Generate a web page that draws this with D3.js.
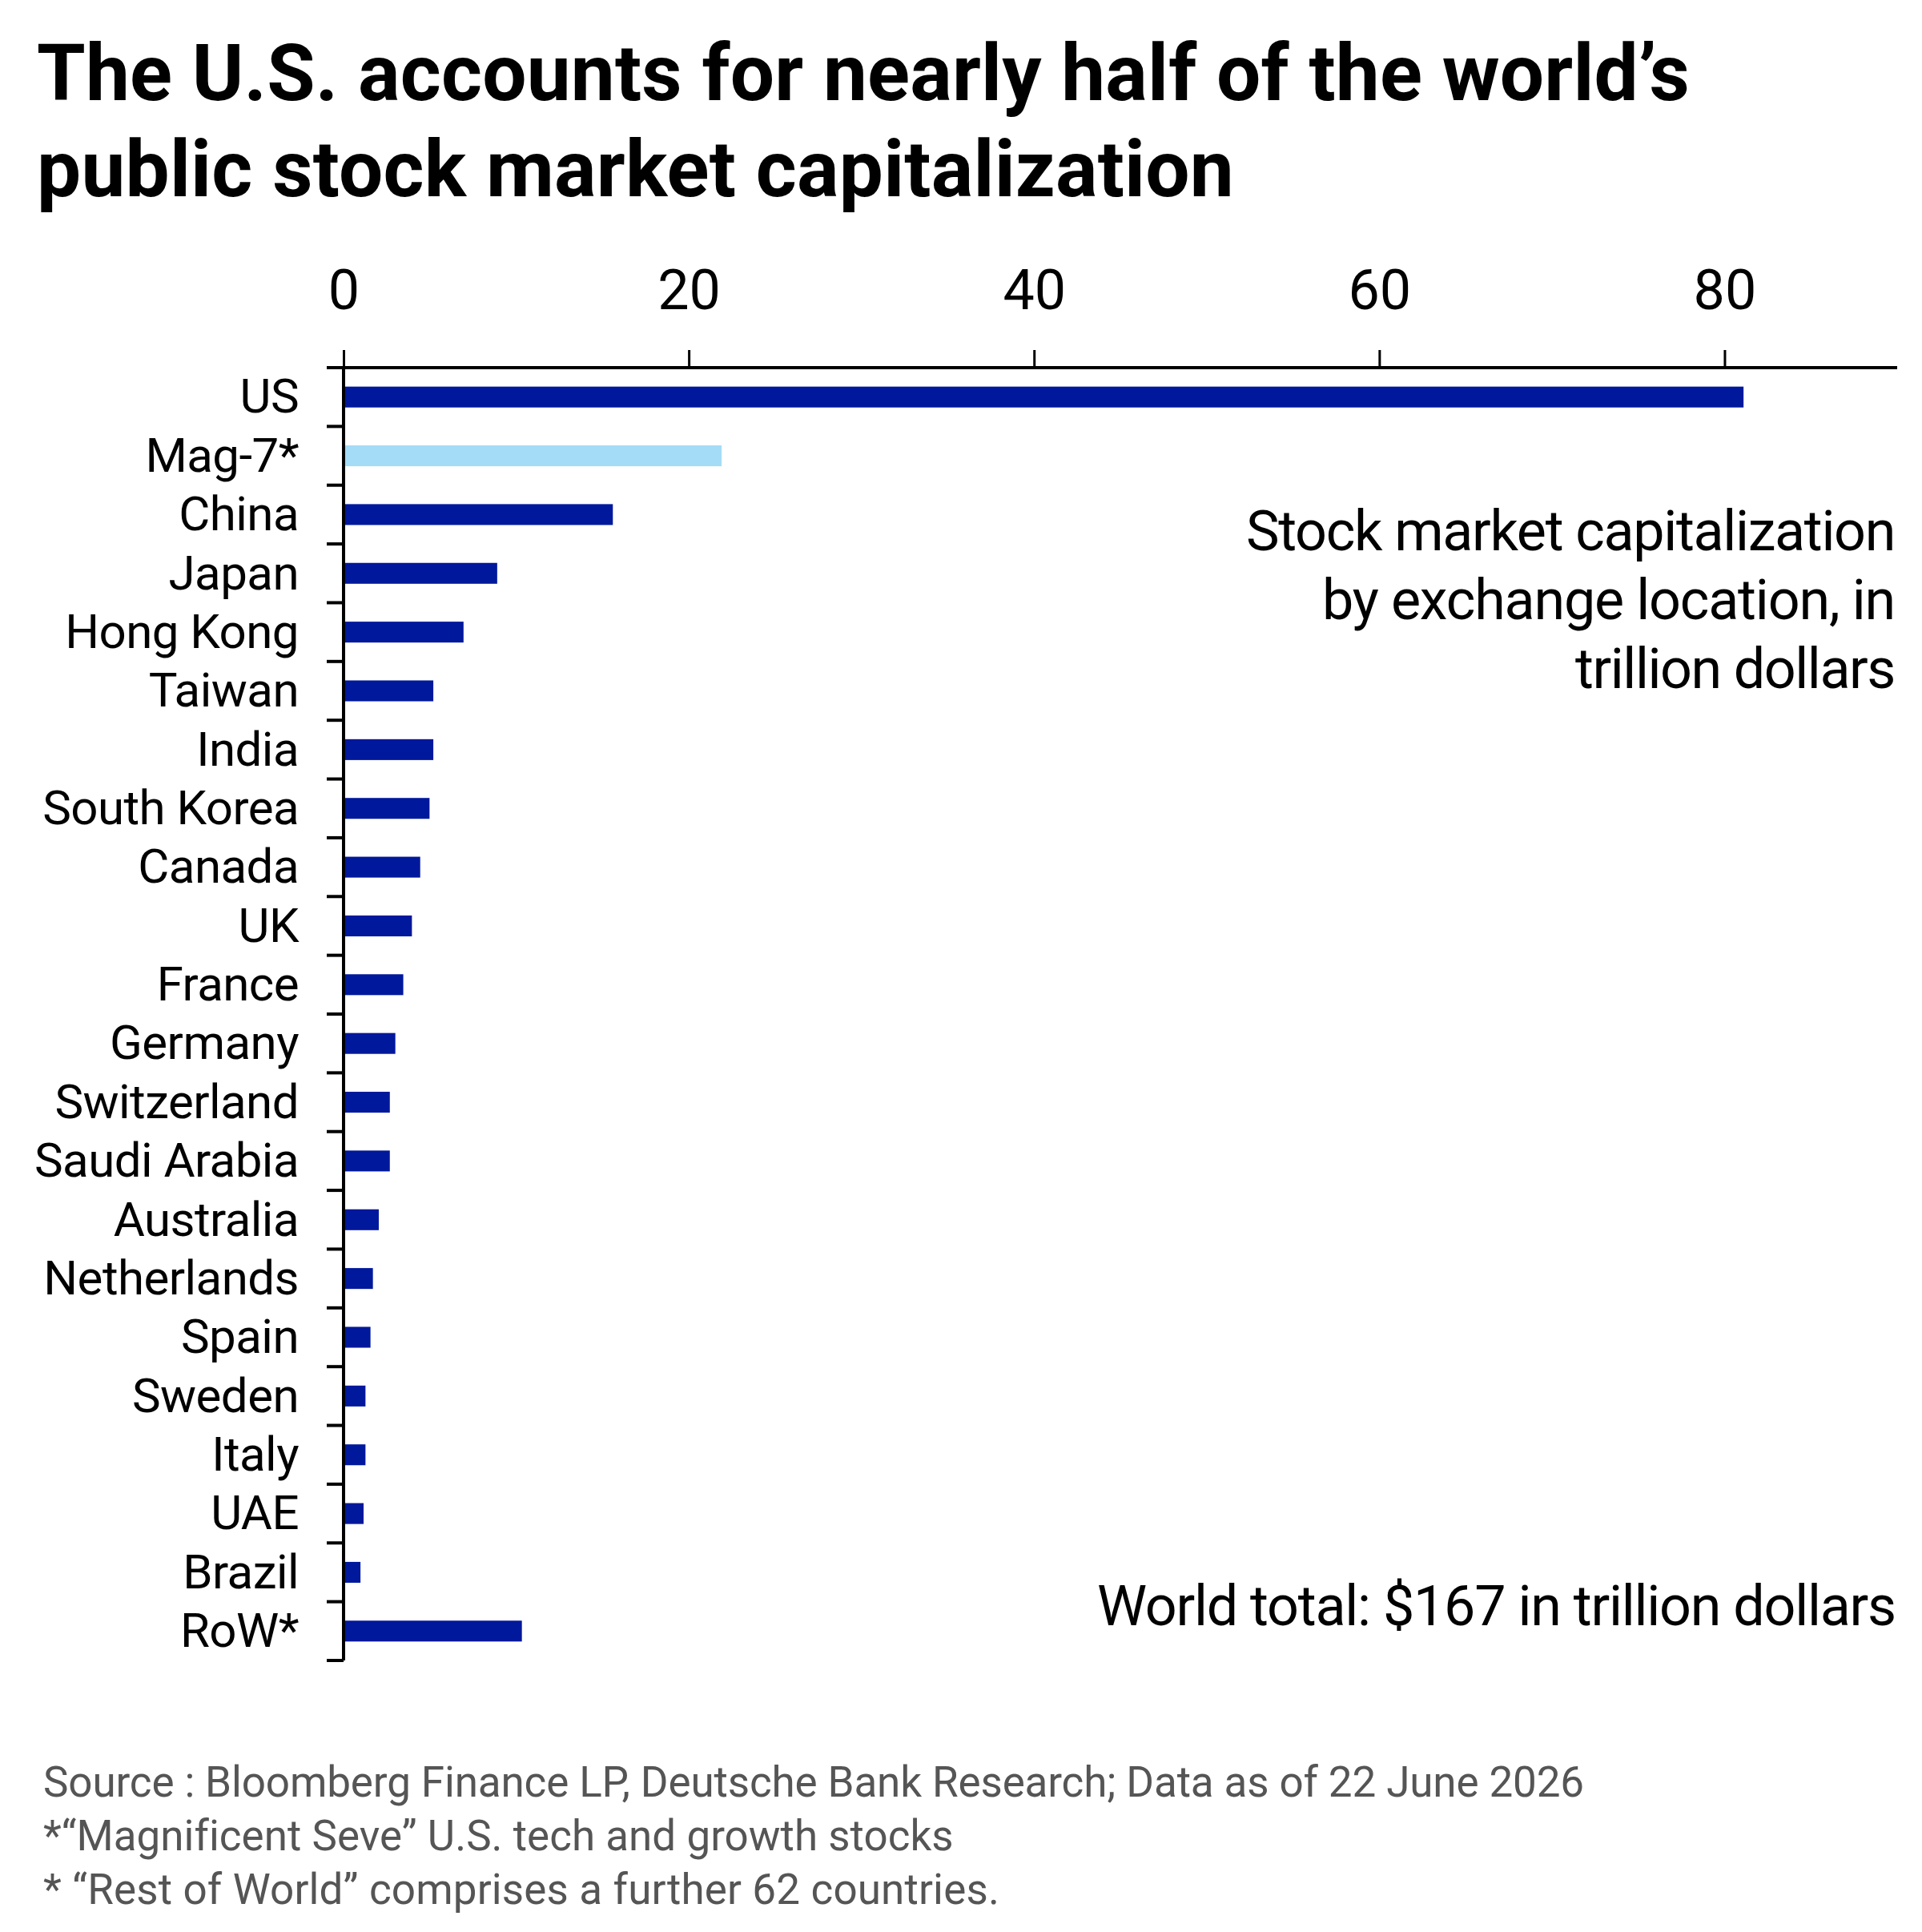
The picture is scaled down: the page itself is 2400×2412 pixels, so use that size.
<!DOCTYPE html>
<html><head><meta charset="utf-8">
<script src="https://cdn.jsdelivr.net/npm/d3@7"></script>
<style>body{margin:0;background:#fff}</style>
</head><body>
<svg id="chart" width="2400" height="2412"></svg>
<script>
// ---- data ----
const categories = ["US","Mag-7*","China","Japan","Hong Kong","Taiwan","India","South Korea","Canada","UK","France","Germany","Switzerland","Saudi Arabia","Australia","Netherlands","Spain","Sweden","Italy","UAE","Brazil","RoW*"];
const values = [81.1,21.9,15.6,8.9,6.95,5.2,5.2,4.98,4.44,3.96,3.46,3.0,2.68,2.68,2.04,1.7,1.56,1.27,1.27,1.16,0.98,10.33];
const highlighted = ["Mag-7*"];
const xTicks = [0,20,40,60,80];
const titleLines = ["The U.S. accounts for nearly half of the world\u2019s","public stock market capitalization"];
const noteLines = ["Stock market capitalization","by exchange location, in","trillion dollars"];
const totalNote = "World total: $167 in trillion dollars";
const footerLines = ["Source : Bloomberg Finance LP, Deutsche Bank Research; Data as of 22 June 2026","*\u201cMagnificent Seve\u201d U.S. tech and growth stocks","* \u201cRest of World\u201d comprises a further 62 countries."];

// ---- layout ----
const svg = d3.select("#chart");
const FONT = "Roboto, 'Noto Sans', sans-serif";
const dark = "#00189b", light = "#a4dcf8";

function fit(node, target){
  const fs = parseFloat(node.getAttribute("font-size"));
  const w = node.getComputedTextLength();
  const n = node.textContent.length;
  let ls = (target - w) / (n * fs);
  ls = Math.max(-0.045, Math.min(0.04, ls));
  node.setAttribute("letter-spacing", ls + "em");
  const w2 = node.getComputedTextLength();
  node.setAttribute("font-size", fs * target / w2);
}

const x = d3.scaleLinear().domain([0, 90]).range([429, 2369]);
const y = d3.scaleBand().domain(categories).range([459, 2073]).paddingInner(0.645).paddingOuter(0.3225);
const step = y.step();
const y0 = y.range()[0];

// bars
svg.append("g").selectAll("rect").data(categories).join("rect")
  .attr("x", x(0))
  .attr("y", d => y(d))
  .attr("width", (d, i) => x(values[i]) - x(0))
  .attr("height", y.bandwidth())
  .attr("fill", d => highlighted.includes(d) ? light : dark);

// x axis (top)
const xAxis = svg.append("g").attr("transform", `translate(0,459)`)
  .call(d3.axisTop(x).tickValues(xTicks).tickSize(22).tickPadding(51).tickFormat(d3.format("d")));
xAxis.select(".domain").remove();
xAxis.selectAll(".tick line").attr("stroke", "#000").attr("stroke-width", 3);
xAxis.selectAll(".tick text").attr("font-family", FONT).attr("font-size", 70).attr("fill", "#000").attr("dy", "0");
svg.append("line").attr("x1", 408).attr("x2", x.range()[1]).attr("y1", 459).attr("y2", 459)
  .attr("stroke", "#000").attr("stroke-width", 4);

// y axis
const yAxis = svg.append("g").attr("transform", `translate(${x(0)},0)`)
  .call(d3.axisLeft(y).tickSize(0).tickPadding(56));
yAxis.select(".domain").remove();
yAxis.selectAll(".tick text").attr("font-family", FONT).attr("font-size", 60).attr("fill", "#000").attr("dy", "0.33em");
const refLabel = yAxis.selectAll(".tick text").filter(d => d === "Saudi Arabia").node();
fit(refLabel, 330);
const lfs = refLabel.getAttribute("font-size"), lls = refLabel.getAttribute("letter-spacing");
yAxis.selectAll(".tick text").attr("font-size", lfs).attr("letter-spacing", lls);

svg.append("line").attr("x1", x(0)).attr("x2", x(0)).attr("y1", y.range()[0]).attr("y2", y.range()[1])
  .attr("stroke", "#000").attr("stroke-width", 4);
svg.append("g").selectAll("line").data(d3.range(categories.length + 1)).join("line")
  .attr("x1", 408).attr("x2", x(0))
  .attr("y1", i => y0 + i * step).attr("y2", i => y0 + i * step)
  .attr("stroke", "#000").attr("stroke-width", 4);

// title
const titleTargets = [2064, 1495];
svg.append("g").selectAll("text").data(titleLines).join("text")
  .attr("x", 46).attr("y", (d, i) => 125 + i * 120)
  .attr("font-family", FONT).attr("font-weight", 700).attr("font-size", 98).attr("fill", "#000")
  .text(d => d)
  .each(function(d, i){ fit(this, titleTargets[i]); });

// note
const noteTargets = [810, 715, 399];
svg.append("g").selectAll("text").data(noteLines).join("text")
  .attr("x", 2366).attr("y", (d, i) => 687 + i * 86)
  .attr("text-anchor", "end")
  .attr("font-family", FONT).attr("font-size", 70).attr("fill", "#000")
  .text(d => d)
  .each(function(d, i){ fit(this, noteTargets[i]); });

svg.append("text").attr("x", 2367).attr("y", 2029).attr("text-anchor", "end")
  .attr("font-family", FONT).attr("font-size", 70).attr("fill", "#000")
  .text(totalNote).each(function(){ fit(this, 997); });

// footer
const footTargets = [1924, 1137, 1194];
svg.append("g").selectAll("text").data(footerLines).join("text")
  .attr("x", 54).attr("y", (d, i) => 2243 + i * 67)
  .attr("font-family", FONT).attr("font-size", 53).attr("fill", "#555")
  .text(d => d)
  .each(function(d, i){ fit(this, footTargets[i]); });
</script>
</body></html>
